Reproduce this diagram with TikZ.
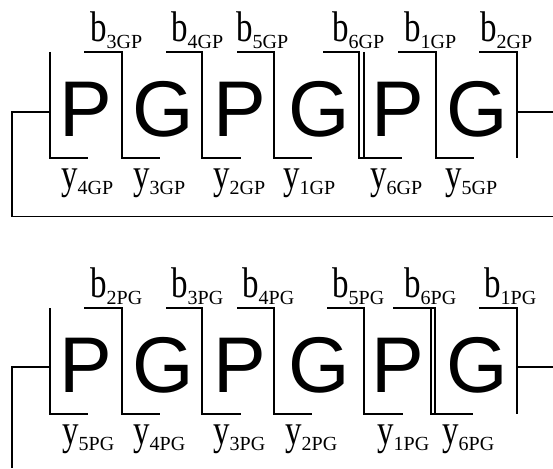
\documentclass[tikz,border=0pt]{standalone}
\usepackage{graphicx}
\usepackage{fontspec}
\setmainfont{Liberation Serif}
\newfontfamily\arialf{Liberation Sans}
\newcommand{\lbl}[2]{\scalebox{1}[1.3]{#1}\raisebox{-6.5pt}{\fontsize{20}{20}\selectfont #2}}
\tikzset{
  ln/.style={line width=1.1pt, line join=miter},
  big/.style={font=\arialf\fontsize{79}{79}\selectfont, inner sep=0pt, anchor=base},
  lab/.style={font=\fontsize{33}{33}\selectfont, inner sep=0pt, anchor=base west},
}
\begin{document}
\begin{tikzpicture}[x=1pt,y=-1pt]
\useasboundingbox (0,0) rectangle (553,468);
% ---------- top diagram ----------
\foreach \x/\c/\n in {86/P/a1,163/G/a2,240/P/a3,319/G/a4,398/P/a5,477/G/a6}
  \node[big] (\n) at (\x,136.7) {\c};
\draw[ln] (50,52) -- (50,158) -- (88,158);
\draw[ln] (84,52) -- (122,52) -- (122,158) -- (160,158);
\draw[ln] (166,52) -- (202,52) -- (202,158) -- (241,158);
\draw[ln] (237,52) -- (274,52) -- (274,158) -- (312,158);
\draw[ln] (323,52) -- (359,52) -- (359,158) -- (402,158);
\draw[ln] (364,52) -- (364,158);
\draw[ln] (398,52) -- (436,52) -- (436,158) -- (474,158);
\draw[ln] (479,52) -- (517,52) -- (517,158);
\draw[ln] (50,112) -- (12,112) -- (12,216.7) -- (553,216.7);
\draw[ln] (517,112) -- (553,112);
\node[lab] (tb3) at (90,41.7) {\lbl{b}{3GP}};
\node[lab] (tb4) at (171,41.7) {\lbl{b}{4GP}};
\node[lab] (tb5) at (236,41.7) {\lbl{b}{5GP}};
\node[lab] (tb6) at (332,41.7) {\lbl{b}{6GP}};
\node[lab] (tb1) at (404,41.7) {\lbl{b}{1GP}};
\node[lab] (tb2) at (480,41.7) {\lbl{b}{2GP}};
\node[lab] (ty4) at (61,188) {\lbl{y}{4GP}};
\node[lab] (ty3) at (133,188) {\lbl{y}{3GP}};
\node[lab] (ty2) at (213,188) {\lbl{y}{2GP}};
\node[lab] (ty1) at (283,188) {\lbl{y}{1GP}};
\node[lab] (ty6) at (370,188) {\lbl{y}{6GP}};
\node[lab] (ty5) at (445,188) {\lbl{y}{5GP}};
% ---------- bottom diagram ----------
\foreach \x/\c/\n in {86/P/b1,163/G/b2,240/P/b3,319/G/b4,398/P/b5,477/G/b6}
  \node[big] (\n) at (\x,392.7) {\c};
\draw[ln] (50,308) -- (50,414) -- (88,414);
\draw[ln] (84,308) -- (122,308) -- (122,414) -- (160,414);
\draw[ln] (166,308) -- (202,308) -- (202,414) -- (241,414);
\draw[ln] (237,308) -- (274,308) -- (274,414) -- (312,414);
\draw[ln] (327,308) -- (364,308) -- (364,414) -- (403,414);
\draw[ln] (393,308) -- (435,308) -- (435,414);
\draw[ln] (431,308) -- (431,414) -- (473,414);
\draw[ln] (479,308) -- (517,308) -- (517,414);
\draw[ln] (50,367) -- (12,367) -- (12,468);
\draw[ln] (517,367) -- (553,367);
\node[lab] (bb2) at (90,297.7) {\lbl{b}{2PG}};
\node[lab] (bb3) at (171,297.7) {\lbl{b}{3PG}};
\node[lab] (bb4) at (242,297.7) {\lbl{b}{4PG}};
\node[lab] (bb5) at (332,297.7) {\lbl{b}{5PG}};
\node[lab] (bb6) at (404,297.7) {\lbl{b}{6PG}};
\node[lab] (bb1) at (484,297.7) {\lbl{b}{1PG}};
\node[lab] (by5) at (62,444) {\lbl{y}{5PG}};
\node[lab] (by4) at (133,444) {\lbl{y}{4PG}};
\node[lab] (by3) at (213,444) {\lbl{y}{3PG}};
\node[lab] (by2) at (285,444) {\lbl{y}{2PG}};
\node[lab] (by1) at (377,444) {\lbl{y}{1PG}};
\node[lab] (by6) at (442,444) {\lbl{y}{6PG}};
\end{tikzpicture}
\end{document}
